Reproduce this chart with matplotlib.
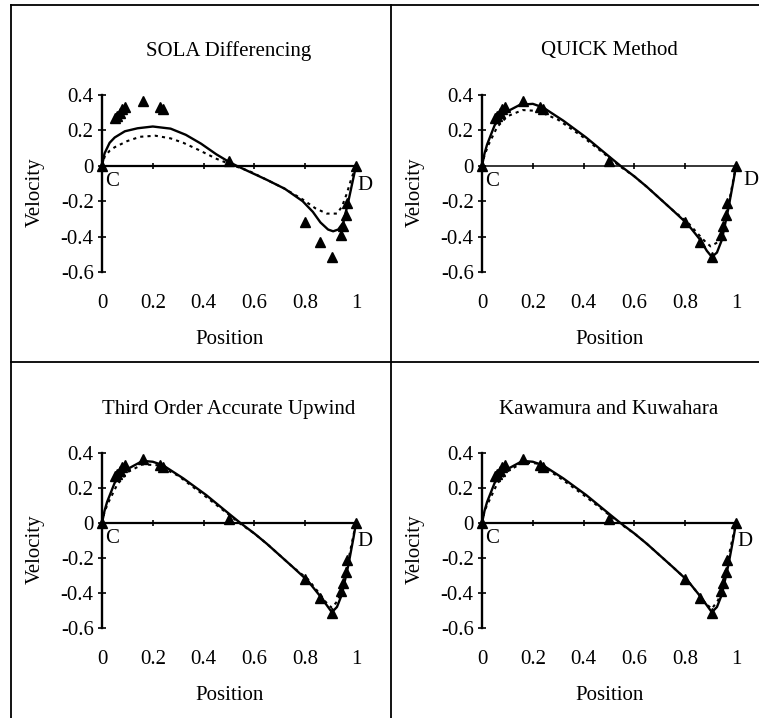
import matplotlib as mpl
import matplotlib.pyplot as plt
from matplotlib.lines import Line2D

mpl.rcParams["font.family"] = ["Liberation Serif", "DejaVu Serif"]

# experimental data (same in every panel)
exp_x = [0.0, 0.05, 0.06, 0.07, 0.08, 0.09, 0.16, 0.23, 0.24, 0.5,
         0.8, 0.86, 0.905, 0.94, 0.95, 0.96, 0.965, 1.0]
exp_y = [0.0, 0.27, 0.28, 0.30, 0.32, 0.33, 0.365, 0.33, 0.32, 0.025,
         -0.32, -0.43, -0.515, -0.39, -0.34, -0.28, -0.21, 0.0]

titles = ["SOLA Differencing", "QUICK Method",
          "Third Order Accurate Upwind", "Kawamura and Kuwahara"]

# solid curve per panel
solid_x = [
    [0, 0.01, 0.03, 0.05, 0.09, 0.14, 0.2, 0.27, 0.33, 0.39, 0.45, 0.5, 0.53,
     0.56, 0.65, 0.72, 0.79, 0.83, 0.86, 0.89, 0.91, 0.93, 0.95, 0.97, 0.985, 1.0],
    [0, 0.01, 0.02, 0.05, 0.09, 0.15, 0.2, 0.24, 0.32, 0.41, 0.505, 0.545, 0.6,
     0.65, 0.7, 0.75, 0.81, 0.86, 0.885, 0.905, 0.925, 0.944, 0.97, 0.99, 1.0],
    [0, 0.01, 0.02, 0.05, 0.09, 0.16, 0.2, 0.24, 0.32, 0.41, 0.505, 0.545, 0.6,
     0.65, 0.7, 0.75, 0.81, 0.86, 0.885, 0.905, 0.925, 0.944, 0.97, 0.99, 1.0],
    [0, 0.01, 0.02, 0.05, 0.09, 0.16, 0.2, 0.24, 0.32, 0.41, 0.505, 0.545, 0.6,
     0.65, 0.7, 0.75, 0.81, 0.86, 0.885, 0.905, 0.925, 0.944, 0.97, 0.99, 1.0],
]
solid_y = [
    [0, 0.07, 0.13, 0.16, 0.195, 0.212, 0.222, 0.21, 0.175, 0.125, 0.065, 0.022, 0.0,
     -0.02, -0.08, -0.13, -0.2, -0.26, -0.32, -0.36, -0.37, -0.36, -0.32, -0.2, -0.1, 0.0],
    [0, 0.07, 0.12, 0.23, 0.30, 0.345, 0.35, 0.33, 0.255, 0.16, 0.047, 0.0, -0.06,
     -0.12, -0.185, -0.25, -0.33, -0.42, -0.48, -0.515, -0.49, -0.42, -0.24, -0.085, 0.0],
    [0, 0.07, 0.12, 0.23, 0.30, 0.355, 0.35, 0.33, 0.255, 0.16, 0.047, 0.0, -0.06,
     -0.12, -0.185, -0.25, -0.33, -0.42, -0.47, -0.51, -0.48, -0.41, -0.24, -0.085, 0.0],
    [0, 0.07, 0.12, 0.23, 0.30, 0.355, 0.35, 0.33, 0.255, 0.16, 0.047, 0.0, -0.06,
     -0.12, -0.185, -0.25, -0.33, -0.42, -0.47, -0.51, -0.48, -0.41, -0.24, -0.085, 0.0],
]

# dotted curve per panel
dot_x = [
    [0, 0.01, 0.03, 0.05, 0.1, 0.15, 0.21, 0.27, 0.32, 0.38, 0.45, 0.52, 0.58,
     0.65, 0.72, 0.79, 0.84, 0.885, 0.925, 0.945, 0.963, 0.98, 1.0],
    [0, 0.01, 0.026, 0.06, 0.1, 0.16, 0.22, 0.3, 0.4, 0.5, 0.54, 0.6, 0.65, 0.7,
     0.75, 0.81, 0.86, 0.88, 0.9, 0.93, 0.96, 0.98, 1.0],
    [0, 0.01, 0.026, 0.06, 0.1, 0.16, 0.22, 0.3, 0.4, 0.5, 0.54, 0.6, 0.65, 0.7,
     0.75, 0.81, 0.86, 0.88, 0.905, 0.93, 0.96, 0.98, 1.0],
    [0, 0.01, 0.026, 0.06, 0.1, 0.16, 0.22, 0.3, 0.4, 0.5, 0.54, 0.6, 0.65, 0.7,
     0.75, 0.81, 0.86, 0.88, 0.905, 0.93, 0.96, 0.98, 1.0],
]
dot_y = [
    [0, 0.05, 0.085, 0.105, 0.14, 0.164, 0.17, 0.155, 0.13, 0.09, 0.04, 0.0, -0.03,
     -0.08, -0.13, -0.19, -0.24, -0.27, -0.27, -0.23, -0.16, -0.08, 0.0],
    [0, 0.06, 0.12, 0.22, 0.28, 0.315, 0.31, 0.26, 0.16, 0.047, 0.0, -0.06, -0.12,
     -0.185, -0.25, -0.32, -0.4, -0.43, -0.455, -0.43, -0.3, -0.15, 0.0],
    [0, 0.065, 0.12, 0.22, 0.29, 0.335, 0.33, 0.27, 0.16, 0.047, 0.0, -0.06, -0.12,
     -0.185, -0.25, -0.32, -0.41, -0.45, -0.485, -0.44, -0.28, -0.14, 0.0],
    [0, 0.07, 0.12, 0.225, 0.295, 0.345, 0.34, 0.265, 0.16, 0.047, 0.0, -0.06, -0.12,
     -0.185, -0.25, -0.33, -0.42, -0.46, -0.49, -0.44, -0.27, -0.13, 0.0],
]

x_ticks = [0, 0.2, 0.4, 0.6, 0.8, 1.0]
x_labels = ["0", "0.2", "0.4", "0.6", "0.8", "1"]
y_ticks = [-0.6, -0.4, -0.2, 0, 0.2, 0.4]
y_labels = ["-0.6", "-0.4", "-0.2", "0", "0.2", "0.4"]
d_pos = [(1.035, -0.11), (1.06, -0.085), (1.035, -0.105), (1.035, -0.105)]

W, H = 759, 718
fig = plt.figure(figsize=(W / 100, H / 100), dpi=100)

# axes boxes in pixels: left, top(0.4), width, height
boxes = [(102, 95, 254, 177), (482, 95, 254, 177),
         (102, 453, 254, 175), (482, 453, 254, 175)]

for i, (l, t, w, h) in enumerate(boxes):
    ax = fig.add_axes([l / W, 1 - (t + h) / H, w / W, h / H])
    ax.set_xlim(0, 1)
    ax.set_ylim(-0.6, 0.4)

    ax.plot(solid_x[i], solid_y[i], color="black", lw=1.7, clip_on=False, zorder=3)
    ax.plot(dot_x[i], dot_y[i], color="black", lw=1.5, ls=(0, (1.5, 2.0)),
            clip_on=False, zorder=3)
    ax.plot(exp_x, exp_y, ls="none", marker="^", color="black", ms=7.5,
            clip_on=False, zorder=4)

    # zero line through the middle, labels kept at the bottom
    ax.spines["top"].set_position(("data", 0))
    ax.spines["bottom"].set_visible(False)
    ax.spines["right"].set_visible(False)
    ax.spines["top"].set_linewidth(1.6 if i != 1 else 1.1)
    ax.spines["left"].set_linewidth(1.7)
    ax.set_xticks(x_ticks, x_labels)
    ax.set_yticks(y_ticks, y_labels)
    ax.tick_params(axis="x", top=True, bottom=False, labeltop=False,
                   labelbottom=True, direction="inout", length=5, width=1.2,
                   pad=13, labelsize=15)
    ax.tick_params(axis="y", direction="inout", length=6, width=1.2,
                   pad=3, labelsize=15)

    ax.set_xlabel("Position", fontsize=15)
    ax.xaxis.set_label_coords(0.504, -0.33)
    ax.set_ylabel("Velocity", fontsize=15)
    ax.yaxis.set_label_coords(-0.225, 0.45)

    ax.text(0.5, 1.25, titles[i], transform=ax.transAxes, ha="center",
            va="center", fontsize=15)
    ax.text(0.012, -0.09, "C", ha="left", va="center", fontsize=15)
    ax.text(d_pos[i][0], d_pos[i][1], "D", ha="center", va="center", fontsize=15)

# panel frame lines
frame = [((11, 759), (5, 5)), ((11, 11), (5, 718)),
         ((391, 391), (5, 718)), ((11, 759), (362, 362))]
for xs, ys in frame:
    fig.add_artist(Line2D([x / W for x in xs], [1 - y / H for y in ys],
                          color="black", lw=1.3))

fig.savefig("out.png", dpi=100)
